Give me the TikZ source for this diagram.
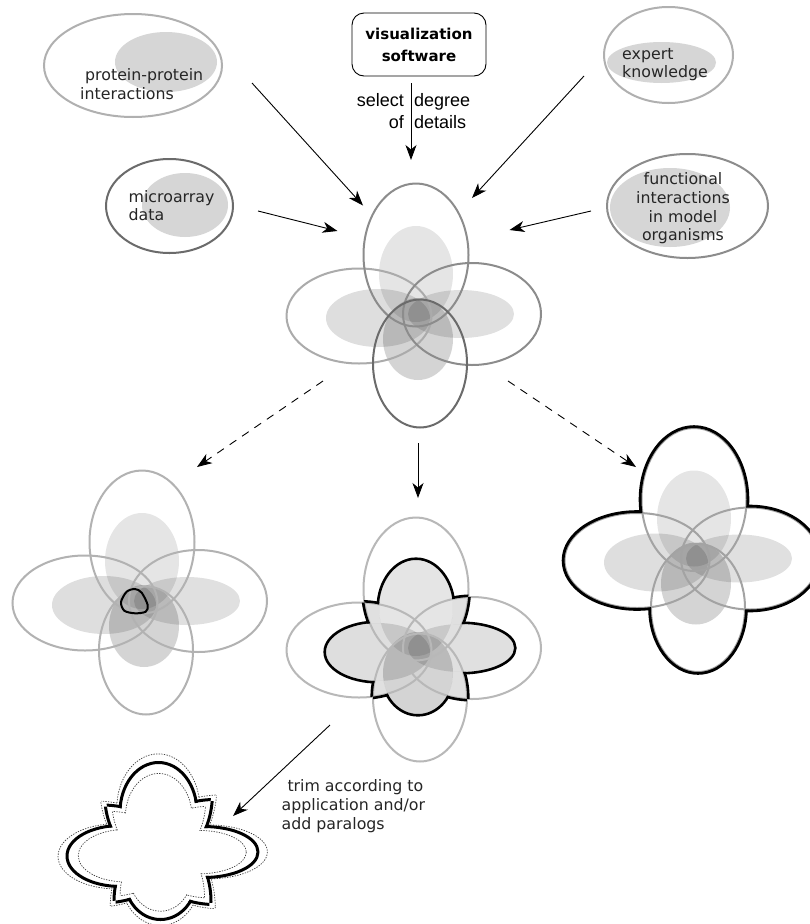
\documentclass[tikz,border=0pt]{standalone}
\usepackage{fontspec}
\setmainfont{DejaVu Sans}
\newfontfamily\libsans{Liberation Sans}
\usetikzlibrary{arrows.meta}
% big ellipses of a flower (relative to its centre)
\newcommand\ctT{(-2,-60) ellipse [x radius=52.5, y radius=71.5]}
\newcommand\ctB{(2,48.5) ellipse [x radius=47, y radius=64]}
\newcommand\ctL{(-59,1) ellipse [x radius=72.5, y radius=47.5]}
\newcommand\ctR{(54,-1) ellipse [x radius=69, y radius=51]}
% grey data ellipses of a flower
\newcommand\cfT{(-2,-41) ellipse [x radius=37, y radius=48]}
\newcommand\cfB{(0,24) ellipse [x radius=35, y radius=41]}
\newcommand\cfL{(-40,3) ellipse [x radius=52, y radius=29]}
\newcommand\cfR{(43,-1) ellipse [x radius=53, y radius=24]}
\newcommand\cpOut[1]{\pgfseteorule\clip (-700,-700) rectangle (700,700) #1;}
\newcommand\smallout{\cpOut\cfT\cpOut\cfB\cpOut\cfL\cpOut\cfR}
\newcommand\baseflower[4]{%
  \fill[black, fill opacity=0.1] \cfT;
  \fill[black, fill opacity=0.17] \cfB;
  \fill[black, fill opacity=0.13] \cfL;
  \fill[black, fill opacity=0.12] \cfR;
  \draw[petal, draw=#3] \ctL;
  \draw[petal, draw=#4] \ctR;
  \draw[petal, draw=#1] \ctT;
  \draw[petal, draw=#2] \ctB;}
\newcommand\lensstroke[3]{%
  \begin{scope}\clip #1; \cpOut{#2}\smallout \draw[#3] #2; \end{scope}
  \begin{scope}\clip #2; \cpOut{#1}\smallout \draw[#3] #1; \end{scope}}
\newcommand\lensfill[3]{\begin{scope}\clip #1; \smallout \fill[#3] #2;\end{scope}}
\newcommand\unionstroke[1]{%
  \begin{scope}\smallout\cpOut\ctL\cpOut\ctR \draw[#1] \cfT \cfB;\end{scope}
  \begin{scope}\smallout\cpOut\ctT\cpOut\ctB \draw[#1] \cfL \cfR;\end{scope}
  \lensstroke{\ctT}{\ctL}{#1}\lensstroke{\ctT}{\ctR}{#1}%
  \lensstroke{\ctB}{\ctL}{#1}\lensstroke{\ctB}{\ctR}{#1}}
\tikzset{
  lbl/.style={font=\fontsize{15.8}{18.7}\selectfont, inner sep=0pt, text=black!85},
  sel/.style={font=\libsans\fontsize{18}{21}\selectfont, inner sep=0pt},
  arr/.style={-{Stealth[length=15pt,width=11pt,inset=4.5pt]}, line width=0.9pt},
  darr/.style={arr, dash pattern=on 8pt off 7pt},
  inring/.style={line width=2pt},
  infill/.style={fill=black!16},
  petal/.style={line width=2pt},
}
\begin{document}
\begin{tikzpicture}[x=1pt,y=-1pt]
\useasboundingbox (0,0) rectangle (810,924);
\fill[white] (0,0) rectangle (810,924);

% ---- input data sets
\fill[infill] (166,62) ellipse [x radius=51, y radius=30];
\draw[inring, draw=black!31] (133,65.5) ellipse [x radius=89, y radius=51.5];
\node[lbl, anchor=base west] (pp1) at (85,80.7) {protein-protein};
\node[lbl, anchor=base west] (pp2) at (80,99) {interactions};

\fill[infill] (661.5,62.5) ellipse [x radius=54.5, y radius=20.5];
\draw[inring, draw=black!31] (668.5,55) ellipse [x radius=64.5, y radius=48];
\node[lbl, anchor=base west] (ex1) at (622,59) {expert};
\node[lbl, anchor=base west] (ex2) at (622,77.5) {knowledge};

\fill[infill] (185,205) ellipse [x radius=43, y radius=32];
\draw[inring, draw=black!58] (169.5,206) ellipse [x radius=63.5, y radius=47];
\node[lbl, anchor=base west] (ma1) at (128.5,202) {microarray};
\node[lbl, anchor=base west] (ma2) at (128.5,220.5) {data};

\fill[infill] (670,207.5) ellipse [x radius=60, y radius=39.5];
\draw[inring, draw=black!45] (687.5,206) ellipse [x radius=80.5, y radius=52];
\node[lbl, anchor=base] (fi1) at (683,184.3) {functional};
\node[lbl, anchor=base] (fi2) at (683,203.3) {interactions};
\node[lbl, anchor=base] (fi3) at (683,222) {in model};
\node[lbl, anchor=base] (fi4) at (683,240.7) {organisms};

\node[draw=black, line width=0.9pt, rounded corners=12pt, minimum width=134pt,
      minimum height=63pt, inner sep=0pt, align=center,
      font=\bfseries\fontsize{15}{22}\selectfont] (vis) at (419,44.5) {visualization\\software};
\node[sel, anchor=base east] (sl1) at (404,106.5) {select};
\node[sel, anchor=base west] (sl2) at (414,106.5) {degree};
\node[sel, anchor=base east] (sl3) at (404,128) {of};
\node[sel, anchor=base west] (sl4) at (414,128) {details};

% ---- merged flower
\begin{scope}[shift={(418,315)}]
  \baseflower{black!45}{black!58}{black!33}{black!45}
\end{scope}

% ---- left result
\begin{scope}[shift={(144,602)}]
  \baseflower{black!30}{black!30}{black!30}{black!30}
  \draw[line width=2pt] plot[smooth cycle] coordinates
    {(-23,0) (-17.3,-10.3) (-9,-13) (-2.3,-9.3) (3.7,3) (1.7,9.7) (-9,11.3) (-19.7,8.7)};
\end{scope}

% ---- middle result
\begin{scope}[shift={(418,649)}]
  \lensfill{\ctT}{\ctL}{black!12}\lensfill{\ctT}{\ctR}{black!12}
  \lensfill{\ctB}{\ctL}{black!12}\lensfill{\ctB}{\ctR}{black!12}
  \baseflower{black!28}{black!28}{black!28}{black!28}
  \unionstroke{line width=5.2pt, line join=round}
\end{scope}

% ---- right result
\begin{scope}[shift={(696,559.5)}]
  \baseflower{black!36}{black!36}{black!36}{black!36}
  \begin{scope}
    \cpOut\ctT\cpOut\ctB\cpOut\ctL\cpOut\ctR
    \draw[line width=5.6pt] \ctT \ctB \ctL \ctR;
  \end{scope}
\end{scope}

% ---- trimmed result
\begin{scope}[shift={(160.5,853)}]
  \begin{scope}[scale=1.11]
    \unionstroke{line width=1.4pt, draw=black!75, dash pattern=on 1.3pt off 1.3pt}
  \end{scope}
  \unionstroke{line width=6pt, line join=round}
  \begin{scope}[scale=0.89]
    \unionstroke{line width=1.4pt, draw=black!75, dash pattern=on 1.3pt off 1.3pt}
  \end{scope}
\end{scope}

\node[lbl, anchor=base west] (tr1) at (287.3,791) {trim according to};
\node[lbl, anchor=base west] (tr2) at (281.5,810.5) {application and/or};
\node[lbl, anchor=base west] (tr3) at (281.5,829.5) {add paralogs};

% ---- connectors
\coordinate (ppA) at (252,83);   \coordinate (ppB) at (363,205.5);
\coordinate (exA) at (584,76);   \coordinate (exB) at (472,198);
\coordinate (maA) at (258,211);  \coordinate (maB) at (337.5,231);
\coordinate (fiA) at (591,211);  \coordinate (fiB) at (509.5,230);
\coordinate (vsA) at (411,83);   \coordinate (vsB) at (411,160);
\coordinate (dlA) at (323,381);  \coordinate (dlB) at (197,467);
\coordinate (drA) at (508,381);  \coordinate (drB) at (636,467);
\coordinate (mdA) at (418,443);  \coordinate (mdB) at (418,498);
\coordinate (trA) at (330,725);  \coordinate (trB) at (233,816);
\draw[arr] (ppA) -- (ppB);
\draw[arr] (exA) -- (exB);
\draw[arr] (maA) -- (maB);
\draw[arr] (fiA) -- (fiB);
\draw[arr] (vsA) -- (vsB);
\draw[darr] (dlA) -- (dlB);
\draw[darr] (drA) -- (drB);
\draw[arr] (mdA) -- (mdB);
\draw[arr] (trA) -- (trB);
\end{tikzpicture}
\end{document}
